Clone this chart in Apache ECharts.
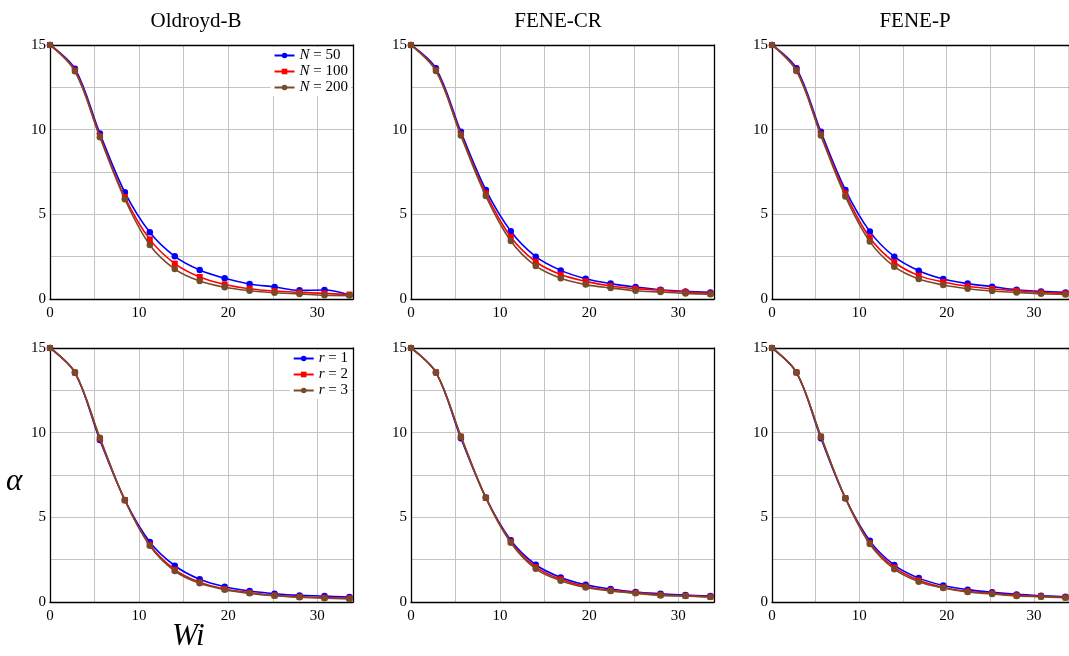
<!DOCTYPE html>
<html>
<head>
<meta charset="utf-8">
<script src="https://cdn.jsdelivr.net/npm/echarts@6/dist/echarts.min.js"></script>
<style>html,body{margin:0;padding:0;background:#fff}#c{width:1069px;height:656px}</style>
</head>
<body>
<div id="c"></div>
<script>
const xs = [0, 2.8, 5.6, 8.4, 11.2, 14, 16.8, 19.6, 22.4, 25.2, 28, 30.8, 33.6];
const titles = ['Oldroyd-B', 'FENE-CR', 'FENE-P'];
const namesTop = ['N = 50', 'N = 100', 'N = 200'];
const namesBot = ['r = 1', 'r = 2', 'r = 3'];
const xTicks = [0, 10, 20, 30];
const yTicks = [0, 5, 10, 15];

const ob_N50  = [15, 13.6, 9.77, 6.30, 3.94, 2.52, 1.71, 1.22, 0.89, 0.71, 0.51, 0.53, 0.24];
const ob_N100 = [15, 13.5, 9.62, 6.02, 3.52, 2.09, 1.30, 0.86, 0.61, 0.47, 0.39, 0.33, 0.26];
const ob_N200 = [15, 13.45, 9.55, 5.89, 3.19, 1.77, 1.06, 0.69, 0.49, 0.37, 0.30, 0.22, 0.20];
const cr_N50  = [15, 13.62, 9.87, 6.44, 4.00, 2.50, 1.69, 1.20, 0.91, 0.71, 0.55, 0.45, 0.39];
const cr_N100 = [15, 13.52, 9.72, 6.24, 3.66, 2.20, 1.44, 1.04, 0.77, 0.61, 0.51, 0.41, 0.33];
const cr_N200 = [15, 13.47, 9.65, 6.08, 3.43, 1.95, 1.22, 0.85, 0.65, 0.49, 0.41, 0.33, 0.28];
const p_N50   = [15, 13.62, 9.87, 6.44, 3.98, 2.50, 1.67, 1.18, 0.91, 0.73, 0.55, 0.45, 0.39];
const p_N100  = [15, 13.52, 9.72, 6.24, 3.62, 2.17, 1.38, 1.00, 0.75, 0.59, 0.49, 0.39, 0.33];
const p_N200  = [15, 13.47, 9.65, 6.06, 3.39, 1.91, 1.18, 0.83, 0.61, 0.47, 0.39, 0.31, 0.27];
const ob_r1 = [15, 13.55, 9.56, 6.03, 3.54, 2.14, 1.34, 0.90, 0.65, 0.49, 0.39, 0.35, 0.29];
const ob_r2 = [15, 13.55, 9.65, 6.01, 3.38, 1.91, 1.16, 0.77, 0.55, 0.39, 0.31, 0.26, 0.22];
const ob_r3 = [15, 13.55, 9.70, 6.01, 3.32, 1.83, 1.10, 0.73, 0.51, 0.37, 0.28, 0.22, 0.18];
const cr_r1 = [15, 13.56, 9.67, 6.17, 3.65, 2.20, 1.45, 1.02, 0.77, 0.59, 0.49, 0.41, 0.35];
const cr_r2 = [15, 13.56, 9.76, 6.15, 3.56, 2.06, 1.34, 0.92, 0.69, 0.55, 0.43, 0.37, 0.31];
const cr_r3 = [15, 13.56, 9.78, 6.15, 3.50, 1.96, 1.26, 0.86, 0.65, 0.51, 0.39, 0.35, 0.29];
const p_r1  = [15, 13.56, 9.67, 6.13, 3.61, 2.18, 1.41, 0.98, 0.73, 0.57, 0.45, 0.37, 0.31];
const p_r2  = [15, 13.56, 9.76, 6.13, 3.48, 2.04, 1.28, 0.86, 0.63, 0.51, 0.39, 0.33, 0.27];
const p_r3  = [15, 13.56, 9.78, 6.13, 3.42, 1.94, 1.20, 0.83, 0.59, 0.47, 0.35, 0.31, 0.25];

const panels = [
  [ob_N50, ob_N100, ob_N200], [cr_N50, cr_N100, cr_N200], [p_N50, p_N100, p_N200],
  [ob_r1, ob_r2, ob_r3], [cr_r1, cr_r2, cr_r3], [p_r1, p_r2, p_r3]
];

const FONT = '"Liberation Serif", "DejaVu Serif", serif';
const colors = ['#0000ff', '#ff0000', '#774b28'];
const symbols = ['circle', 'rect', 'circle'];
const lefts = [50, 411, 772];
const tops = [45, 348];
const W = 303, H = 254;

const grid = [], xAxis = [], yAxis = [], series = [];
for (let i = 0; i < 6; i++) {
  const col = i % 3, row = Math.floor(i / 3);
  grid.push({left: lefts[col], top: tops[row], width: W, height: H, show: false});
  xAxis.push({type: 'value', gridIndex: i, min: 0, max: 34, interval: 5, position: 'bottom',
    axisLine: {show: true, onZero: false, lineStyle: {color: '#000', width: 1.3}}, axisTick: {show: false},
    splitLine: {show: true, showMinLine: false, showMaxLine: false, lineStyle: {color: '#c4c4c4', width: 1}},
    axisLabel: {show: true, color: '#000', fontFamily: FONT, fontSize: 15, margin: 7,
      showMaxLabel: false, formatter: v => xTicks.includes(v) ? String(v) : ''}});
  yAxis.push({type: 'value', gridIndex: i, min: 0, max: 15, interval: 2.5, position: 'left',
    axisLine: {show: true, onZero: false, lineStyle: {color: '#000', width: 1.3}}, axisTick: {show: false},
    splitLine: {show: true, showMinLine: false, showMaxLine: false, lineStyle: {color: '#c4c4c4', width: 1}},
    axisLabel: {show: true, color: '#000', fontFamily: FONT, fontSize: 15, margin: 4,
      formatter: v => yTicks.includes(v) ? String(v) : ''}});
  const names = row === 0 ? namesTop : namesBot;
  panels[i].forEach((arr, k) => {
    series.push({type: 'line', name: names[k], xAxisIndex: i, yAxisIndex: i,
      data: xs.map((x, j) => [x, arr[j]]), smooth: 0.35, symbol: symbols[k], symbolSize: k === 1 ? 6 : 6.5,
      color: colors[k], lineStyle: {width: 1.6, color: colors[k]}, itemStyle: {color: colors[k]},
      z: 2 + k, animation: false, clip: false});
  });
}
// frame: top and right spines
for (let i = 0; i < 6; i++) {
  xAxis.push({type: 'value', gridIndex: i, min: 0, max: 34, position: 'top',
    axisLine: {show: true, onZero: false, lineStyle: {color: '#000', width: 1.3}}, axisTick: {show: false},
    axisLabel: {show: false}, splitLine: {show: false}});
  yAxis.push({type: 'value', gridIndex: i, min: 0, max: 15, position: 'right',
    axisLine: {show: true, onZero: false, lineStyle: {color: '#000', width: 1.3}}, axisTick: {show: false},
    axisLabel: {show: false}, splitLine: {show: false}});
}

const legendText = {fontFamily: FONT, fontSize: 15, color: '#000',
  rich: {i: {fontFamily: FONT, fontSize: 15, fontStyle: 'italic', color: '#000'},
         n: {fontFamily: FONT, fontSize: 15, color: '#000'}}};
const fmt = name => '{i|' + name.charAt(0) + '}{n|' + name.slice(1) + '}';
const legend = [
  {data: namesTop, orient: 'vertical', right: 1069 - 351, top: 47, backgroundColor: '#fff',
   itemGap: 1, itemWidth: 20, itemHeight: 7, padding: [1, 3, 1, 3], textStyle: legendText, formatter: fmt,
   selectedMode: false},
  {data: namesBot, orient: 'vertical', right: 1069 - 351, top: 350, backgroundColor: '#fff',
   itemGap: 1, itemWidth: 20, itemHeight: 7, padding: [1, 3, 1, 3], textStyle: legendText, formatter: fmt,
   selectedMode: false}
];

const titleCenters = [191, 553, 910];
const title = titles.map((t, c) => ({text: t, left: titleCenters[c], top: 6, textAlign: 'center',
  textStyle: {fontFamily: FONT, fontSize: 21, fontWeight: 'normal', color: '#000'}}));

const chart = echarts.init(document.getElementById('c'), null, {renderer: 'canvas'});
chart.setOption({
  animation: false,
  backgroundColor: '#fff',
  title, legend, grid, xAxis, yAxis, series,
  graphic: [
    {type: 'text', left: 6, top: 466, style: {text: 'α', font: 'italic 31px ' + FONT, fill: '#000'}},
    {type: 'text', left: 172, top: 621, style: {text: 'Wi', font: 'italic 31px ' + FONT, fill: '#000'}}
  ]
});
</script>
</body>
</html>
